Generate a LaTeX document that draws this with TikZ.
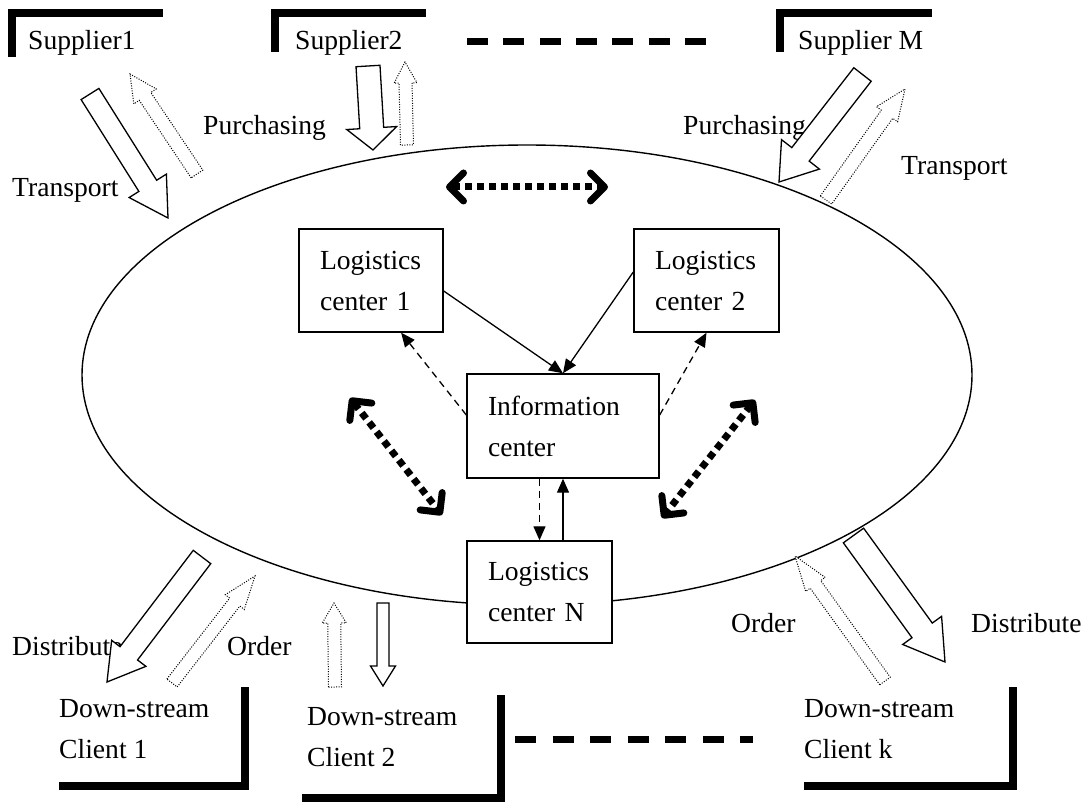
\documentclass[tikz,border=0pt]{standalone}
\usepackage{fontspec}
\setmainfont{Liberation Serif}
\usetikzlibrary{arrows.meta,calc}

% block arrow: [style]{tail}{tip}{half shaft}{half head}{head length}
\newcommand{\blockarrow}[6][]{%
  \coordinate (ba) at ($(#3)!#6pt!(#2)$);
  \draw[#1] ($(#2)!#4pt!90:(#3)$) -- ($(ba)!#4pt!90:(#3)$) -- ($(ba)!#5pt!90:(#3)$) -- (#3)
    -- ($(ba)!#5pt!-90:(#3)$) -- ($(ba)!#4pt!-90:(#3)$) -- ($(#2)!#4pt!-90:(#3)$) -- cycle;}

\begin{document}
\begin{tikzpicture}[x=1pt, y=-1pt,
    txt/.style={font=\fontsize{27.6pt}{41pt}\selectfont, inner sep=0pt},
    box/.style={txt, draw, fill=white, line width=1.4pt, align=left, inner xsep=21pt},
    sbar/.style={line width=8pt},
    solidarr/.style={draw, fill=white, line width=1.3pt},
    dotarr/.style={draw, fill=white, line width=1pt, dash pattern=on 1pt off 1.5pt},
    link/.style={line width=1.3pt, -{Triangle[length=14pt,width=12pt]}},
    dlink/.style={link, dash pattern=on 7pt off 5pt},
    flowdots/.style={line width=7pt, dash pattern=on 7pt off 5pt,
        {Straight Barb[length=14pt,width=28pt,round]}-{Straight Barb[length=14pt,width=28pt,round]}}]
        \useasboundingbox (0,0) rectangle (1090,802);

        % Logistics cluster
        \draw[line width=1.4pt] (527,375) ellipse [x radius=445pt, y radius=230pt];

        % Exchange between centers
        \coordinate (xa) at (446,187);
        \coordinate (xb) at (608,187);
        \coordinate (xc) at (350,398);
        \coordinate (xd) at (442,515);
        \coordinate (xe) at (755,400);
        \coordinate (xf) at (662,518);
        \draw[flowdots] (xa) -- (xb);
        \draw[flowdots] (xc) -- (xd);
        \draw[flowdots] (xe) -- (xf);

        % Centers
        \node[box, text width=102pt, minimum height=103pt] (lc1) at (371,280.5) {Logistics\\center 1};
        \node[box, text width=103pt, minimum height=103pt] (lc2) at (706.5,280.5) {Logistics\\center 2};
        \node[box, text width=150pt, minimum height=104pt] (info) at (563,426) {Information\\center};
        \node[box, text width=103pt, minimum height=102pt] (lcN) at (539.5,592) {Logistics\\center N};

        % Connections
        \draw[link] ([yshift=-10.5pt]lc1.east) -- (info.north);
        \draw[link] ([yshift=8.5pt]lc2.west) -- (info.north);
        \draw[dlink] ([yshift=11pt]info.west) -- (lc1.-60);
        \draw[dlink] ([yshift=11pt]info.east) -- (lc2.south);
        \draw[dlink] (info.south -| lcN.north) -- (lcN.north);
        \draw[link] (lcN.north -| info.south) -- (info.south);

        % Suppliers
        \node[txt, anchor=base west] (sup1) at (28,50) {Supplier1};
        \node[txt, anchor=base west] (sup2) at (295,50) {Supplier2};
        \node[txt, anchor=base west] (supM) at (798,50) {Supplier M};
        \draw[sbar] (11.5,57) |- (163,13.5);
        \draw[sbar] (275,52) |- (426,13.5);
        \draw[sbar] (779.5,52) |- (931.5,13);
        \draw[line width=7pt, dash pattern=on 21pt off 15.3pt] (467,42) -- (706,42);

        % Clients
        \node[txt, anchor=north west, align=left] (cl1) at (59,699) {Down-stream\\Client 1};
        \node[txt, anchor=north west, align=left] (cl2) at (307,707) {Down-stream\\Client 2};
        \node[txt, anchor=north west, align=left] (clk) at (804,699) {Down-stream\\Client k};
        \draw[sbar] (245,687) |- (59,786);
        \draw[sbar] (501,695) |- (302,798);
        \draw[sbar] (1013,687) |- (804,786);
        \draw[line width=7pt, dash pattern=on 21pt off 16.5pt] (515,739) -- (753,739);

        % Labels
        \node[txt, anchor=base west] (pur1) at (203,135) {Purchasing};
        \node[txt, anchor=base west] (tra1) at (12,197) {Transport};
        \node[txt, anchor=base west] (pur2) at (683,135) {Purchasing};
        \node[txt, anchor=base west] (tra2) at (901,175) {Transport};
        \node[txt, anchor=base west] (dis1) at (12,655) {Distribute};
        \node[txt, anchor=base west] (ord1) at (227,655) {Order};
        \node[txt, anchor=base west] (ord2) at (731,632) {Order};
        \node[txt, anchor=base west] (dis2) at (971,632) {Distribute};

        % Flows
        \blockarrow[solidarr]{90,94}{168,218}{10.5}{22}{38}
        \blockarrow[dotarr]{197,174}{130,74}{7}{13.5}{27}
        \blockarrow[solidarr]{368,66}{373,150}{12}{25}{22}
        \blockarrow[dotarr]{407,145}{405,62}{6.5}{11.5}{21}
        \blockarrow[solidarr]{862.5,74.5}{779,182}{11}{24}{35}
        \blockarrow[dotarr]{826,200}{905,89}{7}{13}{31}
        \blockarrow[solidarr]{202,557}{107,682}{11}{21.5}{36}
        \blockarrow[dotarr]{172,683}{255,576}{6.5}{12}{33}
        \blockarrow[dotarr]{335,687}{334,603}{6.5}{12}{20}
        \blockarrow[solidarr]{383,603}{383,686}{6}{12.5}{20}
        \blockarrow[dotarr]{885,681}{795,556}{6.5}{12}{35}
        \blockarrow[solidarr]{853.5,535.5}{945,662}{12.5}{24}{39}
\end{tikzpicture}
\end{document}
